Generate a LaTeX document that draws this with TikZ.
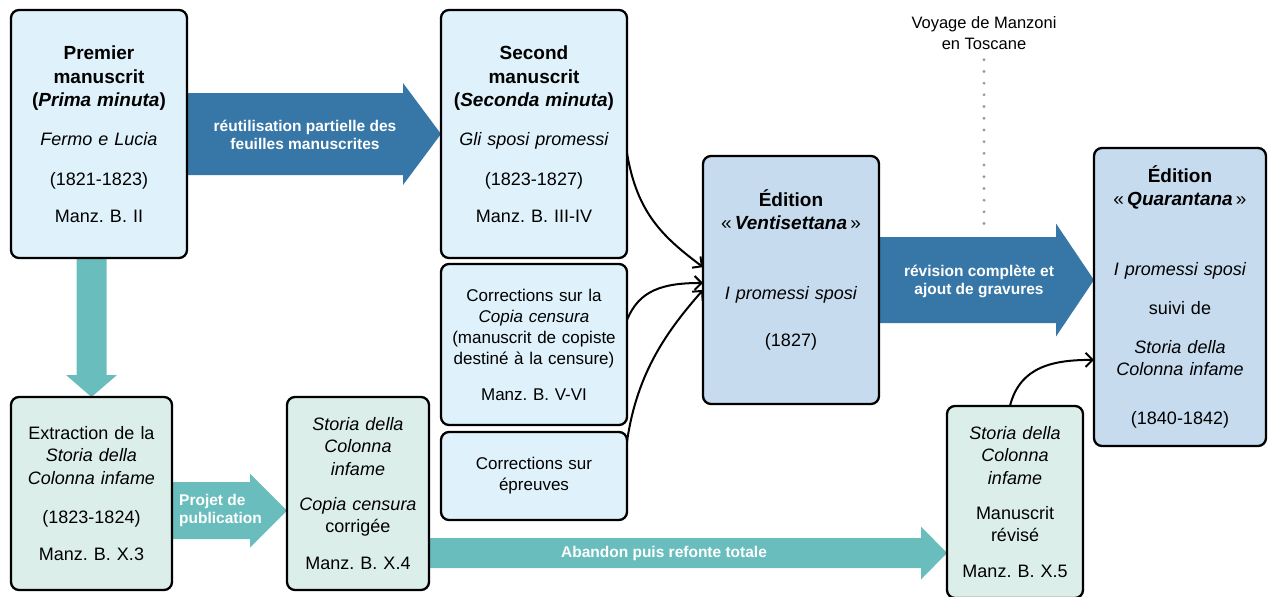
\documentclass[tikz,border=0pt]{standalone}
\usepackage{fontspec}
\setmainfont{Liberation Sans}
\usetikzlibrary{arrows.meta,calc,backgrounds}
\frenchspacing
\definecolor{lb}{HTML}{DFF1FA}
\definecolor{mb}{HTML}{C6DBEE}
\definecolor{tb}{HTML}{DCEEEA}
\definecolor{darr}{HTML}{3777A8}
\definecolor{tarr}{HTML}{69BEBD}
\definecolor{dotc}{HTML}{999999}
\newcommand\bodyf{\fontsize{18}{22.5}\selectfont}
\newcommand\titf{\fontsize{19}{23.5}\selectfont\bfseries}
\newcommand\smf{\fontsize{17}{21}\selectfont}
\newcommand\lblf{\fontsize{15.5}{18}\selectfont\bfseries}
\newcommand\hfat[6]{\fill[#6] ($(#1)+(0,-#3)$) -- ($(#2)+(-#5,-#3)$) -- ($(#2)+(-#5,-#4)$) -- (#2) -- ($(#2)+(-#5,#4)$) -- ($(#2)+(-#5,#3)$) -- ($(#1)+(0,#3)$) -- cycle;}
\tikzset{
  stbox/.style={draw=black, line width=2.3pt, rounded corners=8pt, inner sep=0pt, outer sep=0pt, align=center, anchor=north west, font=\bodyf},
  lbl/.style={text=white, font=\lblf, align=center, inner sep=0pt},
  conn/.style={draw=black, line width=2pt, -{Straight Barb[length=7pt,width=14pt]}}
}
\begin{document}
\begin{tikzpicture}[x=1pt,y=-1pt]
\useasboundingbox (0,0) rectangle (1269,597);
% boxes
\node[stbox, fill=lb, minimum width=176, minimum height=248, text width=168] (A) at (11,10)
  {{\titf Premier\\[0.5pt] manuscrit\\[0.5pt] (\textit{Prima minuta})}\\[17pt] \textit{Fermo e Lucia}\\[17pt] (1821-1823)\\[15pt] Manz. B. II};
\node[stbox, fill=lb, minimum width=186, minimum height=248, text width=180] (B) at (441,10)
  {{\titf Second\\[0.5pt] manuscrit\\[0.5pt] (\textit{Seconda minuta})}\\[17pt] \textit{Gli sposi promessi}\\[17pt] (1823-1827)\\[15pt] Manz. B. III-IV};
\node[stbox, fill=lb, minimum width=186, minimum height=161, text width=180, font=\smf] (C) at (441,264)
  {Corrections sur la\\ \textit{Copia censura}\\ (manuscrit de copiste\\ destiné à la censure)\\[15pt] Manz. B. V-VI};
\node[stbox, fill=lb, minimum width=186, minimum height=88, text width=180, font=\smf] (D) at (441,432)
  {Corrections sur\\ épreuves};
\node[stbox, fill=mb, minimum width=176, minimum height=248, text width=170] (E) at (703,156)
  {{\titf Édition\\[0.5pt] \textmd{«}\,\textit{Ventisettana}\,\textmd{»}}\\[47pt] \textit{I promessi sposi}\\[24.5pt] (1827)\\[1pt]\mbox{}};
\node[stbox, fill=mb, minimum width=172, minimum height=298, text width=166] (F) at (1094,148)
  {{\titf Édition\\[0.5pt] \textmd{«}\,\textit{Quarantana}\,\textmd{»}}\\[47pt] \textit{I promessi sposi}\\[16.5pt] suivi de\\[16.5pt] {\itshape Storia della\\ Colonna infame}\\[26.5pt] (1840-1842)};
\node[stbox, fill=tb, minimum width=161, minimum height=193, text width=155] (G) at (11,397)
  {Extraction de la\\ {\itshape Storia della\\ Colonna infame}\\[16.5pt] (1823-1824)\\[14.5pt] Manz. B. X.3};
\node[stbox, fill=tb, minimum width=142, minimum height=193, text width=138] (H) at (287,397)
  {{\itshape Storia della\\ Colonna\\ infame}\\[12.5pt] \textit{Copia censura}\\ corrigée\\[14.5pt] Manz. B. X.4};
\node[stbox, fill=tb, minimum width=136, minimum height=192, text width=130] (I) at (947,406)
  {{\itshape Storia della\\ Colonna\\ infame}\\[12.5pt] Manuscrit\\ révisé\\[13.5pt] Manz. B. X.5};
% fat arrows
\begin{pgfonlayer}{background}
  \coordinate (s1) at (A.east);
  \coordinate (t1) at (A.east -| B.west);
  \hfat{s1}{t1}{41}{51}{38}{darr}
  \coordinate (s2) at (E.east);
  \coordinate (t2) at (E.east -| F.west);
  \hfat{s2}{t2}{43}{56.5}{38}{darr}
  \coordinate (s3) at ($(G.east)+(0,17)$);
  \coordinate (t3) at (s3 -| H.west);
  \hfat{s3}{t3}{28.5}{37}{37}{tarr}
  \coordinate (s4) at ($(H.east)+(0,59.5)$);
  \coordinate (t4) at (s4 -| I.west);
  \hfat{s4}{t4}{15}{26.5}{26}{tarr}
  \coordinate (s5) at (G.north |- A.south);
  \coordinate (t5) at (G.north);
  \fill[tarr] ($(s5)+(-15,0)$) -- ($(t5)+(-15,-22)$) -- ($(t5)+(-25.5,-22)$) -- (t5) -- ($(t5)+(25.5,-22)$) -- ($(t5)+(15,-22)$) -- ($(s5)+(15,0)$) -- cycle;
\end{pgfonlayer}
% labels on arrows
\node[lbl] (l1) at (305,135) {réutilisation partielle des\\ feuilles manuscrites};
\node[lbl] (l2) at (979,281) {révision complète et\\ ajout de gravures};
\node[lbl, align=left, anchor=west] (l3) at (179,510) {Projet de\\ publication};
\node[lbl] (l4) at (664,553) {Abandon puis refonte totale};
% voyage
\node[font=\fontsize{16.5}{21}\selectfont, align=center, inner sep=0pt] (V) at (984,33) {Voyage de Manzoni\\ en Toscane};
\coordinate (vend) at (984,228);
\draw[dotc, line width=3.2pt, line cap=round, dash pattern=on 0pt off 11.7pt, shorten <=10pt] (V.south) -- (vend);
% curved connectors
\coordinate (b1) at ($(B.north east)!0.577!(B.south east)$);
\coordinate (c1) at ($(C.north east)!0.348!(C.south east)$);
\coordinate (d1) at ($(D.north east)!0.11!(D.south east)$);
\coordinate (e1) at ($(E.north west)!0.448!(E.south west)$);
\coordinate (e2) at ($(E.north west)!0.512!(E.south west)$);
\coordinate (e3) at ($(E.north west)!0.54!(E.south west)$);
\coordinate (i1) at ($(I.north west)!0.463!(I.north east)$);
\coordinate (f1) at ($(F.north west)!0.711!(F.south west)$);
\draw[conn] (b1) .. controls +(10,60) and +(-40,-30) .. (e1);
\draw[conn] (c1) .. controls +(12,-30) and +(-40,0) .. (e2);
\draw[conn] (d1) .. controls +(10,-70) and +(-35,40) .. (e3);
\draw[conn] (i1) .. controls +(10,-40) and +(-40,0) .. (f1);
\end{tikzpicture}
\end{document}
